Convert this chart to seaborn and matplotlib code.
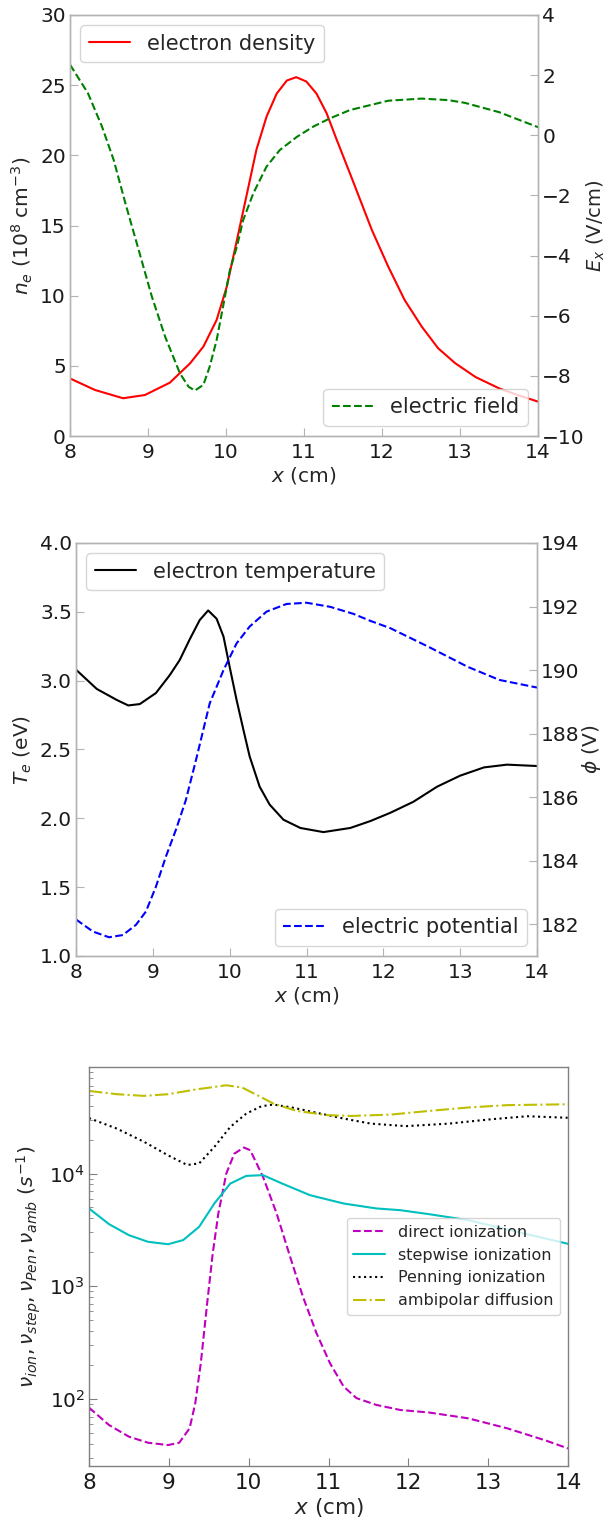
import matplotlib
matplotlib.use("Agg")
import matplotlib.pyplot as plt
import seaborn as sns

# ---- panel 1: electron density / electric field ----
x_ne = [8.0, 8.32, 8.68, 8.96, 9.28, 9.54, 9.71, 9.88, 10.01, 10.14, 10.27, 10.39,
        10.52, 10.65, 10.78, 10.90, 11.03, 11.16, 11.29, 11.42, 11.59, 11.87,
        12.08, 12.29, 12.51, 12.72, 12.94, 13.2, 13.5, 13.75, 14.0]
ne = [4.1, 3.28, 2.69, 2.92, 3.80, 5.18, 6.37, 8.27, 10.64, 13.97, 17.3, 20.4,
      22.76, 24.4, 25.33, 25.57, 25.26, 24.4, 23.0, 21.1, 18.7, 14.68,
      12.07, 9.69, 7.79, 6.25, 5.18, 4.2, 3.4, 2.9, 2.45]

x_ex = [8.0, 8.23, 8.41, 8.56, 8.71, 8.88, 9.05, 9.22, 9.41, 9.52, 9.60, 9.71,
        9.79, 9.88, 9.97, 10.05, 10.14, 10.22, 10.35, 10.52, 10.69, 10.91,
        11.12, 11.33, 11.59, 12.08, 12.51, 12.85, 13.06, 13.5, 14.0]
ex = [2.35, 1.40, 0.29, -0.82, -2.26, -3.81, -5.37, -6.70, -7.92, -8.36, -8.49, -8.30,
      -7.70, -6.81, -5.59, -4.48, -3.70, -2.82, -1.93, -1.04, -0.49, -0.05,
      0.29, 0.56, 0.84, 1.15, 1.22, 1.17, 1.08, 0.77, 0.27]

# ---- panel 2: electron temperature / potential ----
x_te = [8.0, 8.27, 8.53, 8.68, 8.83, 9.04, 9.22, 9.35, 9.48, 9.61, 9.72, 9.83,
        9.92, 10.0, 10.09, 10.18, 10.26, 10.39, 10.52, 10.70, 10.92, 11.22,
        11.57, 11.83, 12.09, 12.39, 12.70, 13.0, 13.31, 13.61, 14.0]
te = [3.08, 2.94, 2.86, 2.82, 2.83, 2.91, 3.04, 3.15, 3.30, 3.44, 3.51, 3.45,
      3.32, 3.10, 2.86, 2.64, 2.45, 2.23, 2.10, 1.99, 1.93, 1.90,
      1.93, 1.98, 2.04, 2.12, 2.23, 2.31, 2.37, 2.39, 2.38]

x_phi = [8.0, 8.22, 8.43, 8.61, 8.78, 8.91, 9.04, 9.17, 9.30, 9.43, 9.57, 9.74,
         9.92, 10.09, 10.26, 10.48, 10.74, 11.0, 11.31, 11.61, 11.83, 12.09,
         12.59, 13.10, 13.51, 14.0]
phi = [182.15, 181.77, 181.59, 181.66, 181.98, 182.40, 183.18, 184.13, 184.97, 185.91, 187.25, 188.95,
       190.0, 190.84, 191.37, 191.84, 192.08, 192.12, 191.99, 191.77, 191.55, 191.32,
       190.73, 190.10, 189.69, 189.45]

# ---- panel 3: frequencies ----
x_nu = [8.0, 8.25, 8.50, 8.74, 8.99, 9.13, 9.26, 9.33, 9.40, 9.48, 9.55, 9.62,
        9.72, 9.82, 9.94, 10.02, 10.18, 10.35, 10.52, 10.68, 10.85, 11.02,
        11.19, 11.35, 11.60, 11.90, 12.26, 12.75, 13.24, 13.73, 14.0]
nu_ion = [84, 58.9, 46.4, 41.0, 39.1, 41.0, 55, 91, 207, 705, 1960, 4420,
          10000, 15000, 17000, 16100, 9330, 4430, 1820, 807, 383, 207,
          129, 102, 88.7, 80, 76, 67.5, 55, 42.7, 36.5]

x_step = [8.0, 8.25, 8.50, 8.74, 8.99, 9.18, 9.38, 9.57, 9.77, 9.97, 10.18, 10.43,
          10.77, 11.19, 11.60, 11.90, 12.26, 12.75, 13.24, 14.0]
nu_step = [4900, 3560, 2840, 2480, 2360, 2570, 3370, 5420, 8150, 9530, 9670, 8090,
           6420, 5420, 4900, 4730, 4360, 3860, 3190, 2380]

x_pen = [8.0, 8.35, 8.69, 8.99, 9.23, 9.38, 9.57, 9.77, 9.97, 10.16, 10.31, 10.55,
         10.80, 11.19, 11.53, 11.97, 12.51, 13.0, 13.49, 14.0]
nu_pen = [31000, 25000, 19100, 14500, 11900, 12300, 17200, 25900, 34000, 39500, 40900, 38400,
          35200, 30700, 27700, 26300, 27700, 30100, 32200, 31200]

x_amb = [8.0, 8.35, 8.69, 8.99, 9.33, 9.72, 9.92, 10.11, 10.31, 10.60, 10.99, 11.29,
         11.78, 12.26, 12.75, 13.24, 14.0]
nu_amb = [54000, 50500, 48800, 50500, 55500, 60600, 57800, 49400, 41700, 35900, 32900, 32400,
          33300, 35900, 38500, 40400, 41100]

x_ticks = [8, 9, 10, 11, 12, 13, 14]

sns.set_style("white")
plt.rcParams["font.family"] = ["DejaVu Sans"]
plt.rcParams["mathtext.fontset"] = "dejavusans"

FS = 14.5
LFS = 15
fig = plt.figure(figsize=(6.08, 15.21), dpi=100)


def px_rect(left, right, top, bottom):
    return [left / 608, 1 - bottom / 1521, (right - left) / 608, (bottom - top) / 1521]


def style(ax, edge, side="left"):
    for s in ax.spines.values():
        s.set_color(edge)
        s.set_linewidth(1.0)
    ax.tick_params(axis="x", which="both", direction="in", bottom=True, top=False,
                   length=6, color=edge, labelcolor=".1", labelsize=FS, pad=5)
    ax.tick_params(axis="y", which="both", direction="in", left=(side == "left"),
                   right=(side == "right"), labelleft=(side == "left"),
                   labelright=(side == "right"), length=6, color=edge,
                   labelcolor=".1", labelsize=FS, pad=3)


# panel 1
ax1 = fig.add_axes(px_rect(70, 538, 15, 436))
sns.lineplot(x=x_ne, y=ne, color="r", lw=1.5, estimator=None, ax=ax1, label="electron density")
ax1b = ax1.twinx()
sns.lineplot(x=x_ex, y=ex, color="g", lw=1.5, linestyle="--", estimator=None, ax=ax1b,
             label="electric field")
ax1.set_xlim(8, 14)
ax1.set_ylim(0, 30)
ax1b.set_ylim(-10, 4)
ax1.set_xticks(x_ticks)
ax1.set_yticks([0, 5, 10, 15, 20, 25, 30])
ax1b.set_yticks([-10, -8, -6, -4, -2, 0, 2, 4])
ax1.set_xlabel("$x$ (cm)", fontsize=FS, labelpad=2)
ax1.set_ylabel("$n_e$ ($10^8$ cm$^{-3}$)", fontsize=FS)
ax1b.set_ylabel("$E_x$ (V/cm)", fontsize=FS - 0.5, labelpad=0)
style(ax1, ".7")
style(ax1b, ".7", side="right")
ax1.legend(loc="upper left", fontsize=LFS)
ax1b.legend(loc="lower right", fontsize=LFS)

# panel 2
ax2 = fig.add_axes(px_rect(76, 537, 543, 956))
sns.lineplot(x=x_te, y=te, color="k", lw=1.5, estimator=None, ax=ax2,
             label="electron temperature")
ax2b = ax2.twinx()
sns.lineplot(x=x_phi, y=phi, color="b", lw=1.5, linestyle="--", estimator=None, ax=ax2b,
             label="electric potential")
ax2.set_xlim(8, 14)
ax2.set_ylim(1.0, 4.0)
ax2b.set_ylim(181, 194)
ax2.set_xticks(x_ticks)
ax2.set_yticks([1.0, 1.5, 2.0, 2.5, 3.0, 3.5, 4.0])
ax2.set_yticklabels(["1.0", "1.5", "2.0", "2.5", "3.0", "3.5", "4.0"])
ax2b.set_yticks([182, 184, 186, 188, 190, 192, 194])
ax2.set_xlabel("$x$ (cm)", fontsize=FS, labelpad=2)
ax2.set_ylabel("$T_e$ (eV)", fontsize=FS)
ax2b.set_ylabel(r"$\phi$ (V)", fontsize=FS, labelpad=0)
style(ax2, ".7")
style(ax2b, ".7", side="right")
ax2.legend(loc="upper left", fontsize=LFS)
ax2b.legend(loc="lower right", fontsize=LFS)

# panel 3
ax3 = fig.add_axes(px_rect(89, 568, 1067, 1466))
sns.lineplot(x=x_nu, y=nu_ion, color="m", lw=1.5, linestyle="--", estimator=None, ax=ax3,
             label="direct ionization")
sns.lineplot(x=x_step, y=nu_step, color="c", lw=1.5, estimator=None, ax=ax3,
             label="stepwise ionization")
sns.lineplot(x=x_pen, y=nu_pen, color="k", lw=1.5, linestyle=":", estimator=None, ax=ax3,
             label="Penning ionization")
sns.lineplot(x=x_amb, y=nu_amb, color="y", lw=1.5, linestyle="-.", estimator=None, ax=ax3,
             label="ambipolar diffusion")
ax3.set_yscale("log")
ax3.set_xlim(8, 14)
ax3.set_ylim(25.5, 8.8e4)
ax3.set_xticks(x_ticks)
ax3.set_xlabel("$x$ (cm)", fontsize=FS + 1, labelpad=2)
ax3.set_ylabel(r"$\nu_{ion},\nu_{step},\nu_{Pen},\nu_{amb}$ $(s^{-1})$", fontsize=FS)
style(ax3, ".5")
ax3.tick_params(axis="y", which="minor", length=3)
ax3.tick_params(axis="x", labelsize=FS + 1)
ax3.legend(loc="center right", fontsize=11.5)

fig.savefig("out.png", dpi=100)
